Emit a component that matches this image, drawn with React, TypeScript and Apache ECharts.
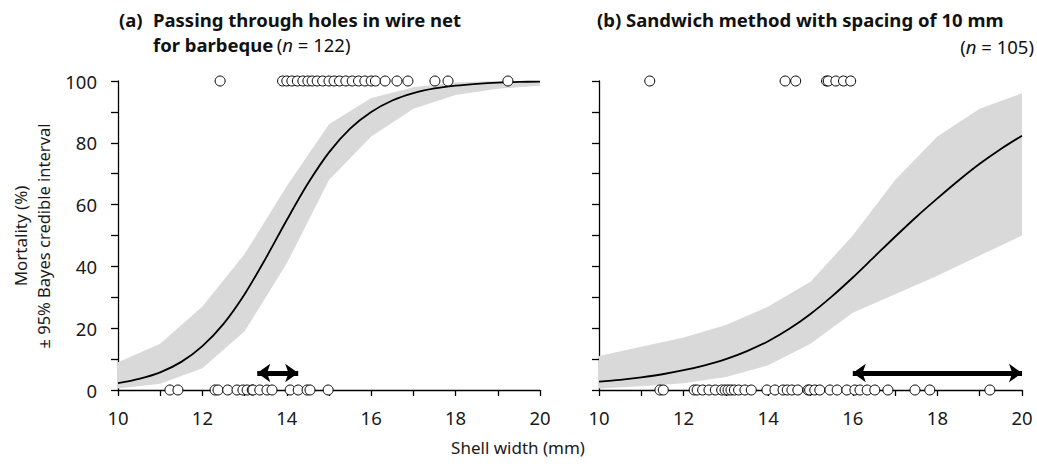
import React, { useEffect, useRef } from "react";
import * as echarts from "echarts";

// ---------- data ----------
const bandX = [10, 11, 12, 13, 14, 15, 16, 17, 18, 19, 20];
const leftLower = [0.5, 2, 7, 19, 41, 68, 82, 91, 95.5, 97.5, 98.5];
const leftUpper = [9, 15, 27, 44, 66, 86, 94.5, 98, 99.5, 100, 100];
const rightLower = [0.5, 1.2, 2.2, 4.2, 8, 15, 25, 31, 37, 43.5, 50];
const rightUpper = [11, 14, 17, 21, 27, 35, 50, 68, 82, 91, 96];

const curveX = [10, 10.5, 11, 11.5, 12, 12.5, 13, 13.5, 14, 14.5, 15, 15.5, 16, 16.5, 17, 17.5, 18, 18.5, 19, 19.5, 20];
const leftCurve = [2.2, 3.6, 5.7, 9.1, 14.2, 21.4, 31.0, 42.6, 55.0, 66.8, 76.9, 84.6, 90.0, 93.7, 96.1, 97.6, 98.5, 99.1, 99.5, 99.7, 99.8];
const rightCurve = [2.7, 3.3, 4.1, 5.1, 6.4, 8.0, 10.0, 12.6, 15.8, 19.8, 24.6, 30.2, 36.4, 43.0, 49.6, 56.0, 62.0, 67.8, 73.2, 78.0, 82.3];

const leftDead = [12.42, 13.9, 14.0, 14.12, 14.25, 14.38, 14.5, 14.6, 14.72, 14.85, 15.0, 15.12, 15.25, 15.4, 15.55, 15.7, 15.85, 16.0, 16.1, 16.33, 16.61, 16.87, 17.51, 17.82, 19.24];
const leftAlive = [11.23, 11.42, 12.3, 12.37, 12.6, 12.82, 12.96, 13.06, 13.18, 13.2, 13.36, 13.53, 13.65, 14.08, 14.27, 14.48, 14.55, 14.98];
const rightDead = [11.2, 14.4, 14.65, 15.38, 15.42, 15.6, 15.78, 15.95];
const rightAlive = [11.44, 11.52, 12.25, 12.32, 12.45, 12.6, 12.75, 12.9, 12.98, 13.05, 13.12, 13.2, 13.3, 13.45, 13.6, 13.97, 14.16, 14.35, 14.45, 14.56, 14.7, 14.94, 14.98, 15.1, 15.22, 15.46, 15.63, 15.86, 16.05, 16.17, 16.34, 16.52, 16.83, 17.47, 17.82, 19.24];

const leftArrow = [13.3, 14.27];
const rightArrow = [16.0, 20.0];
const arrowY = 5.5;

const xTicks = [10, 12, 14, 16, 18, 20];
const yTicks = [0, 20, 40, 60, 80, 100];

const FONT = "'Noto Sans', 'Open Sans', sans-serif";
const TICK_FS = 18.5;
const TITLE_FS = 18.5;

function bandSeries(idx: number, lower: number[], upper: number[]) {
  return {
    type: "custom",
    xAxisIndex: idx,
    yAxisIndex: idx,
    silent: true,
    z: 1,
    data: [[15, 50]],
    encode: { x: 0, y: 1 },
    renderItem: (params: any, api: any) => {
      const pts: number[][] = [];
      bandX.forEach((x, i) => pts.push(api.coord([x, upper[i]])));
      for (let i = bandX.length - 1; i >= 0; i--) pts.push(api.coord([bandX[i], lower[i]]));
      return { type: "polygon", shape: { points: pts }, style: { fill: "#d9d9d9" } };
    },
  };
}

function xAxisCfg(idx: number) {
  return {
    type: "value",
    gridIndex: idx,
    min: 10,
    max: 20,
    interval: 1,
    axisLine: { show: true, lineStyle: { color: "#000", width: 1.3 } },
    axisTick: { show: true, length: 6, inside: false, lineStyle: { color: "#000", width: 1.3 } },
    splitLine: { show: false },
    axisLabel: {
      margin: 18,
      fontSize: TICK_FS,
      color: "#1a1a1a",
      fontFamily: FONT,
      formatter: (v: number) => (xTicks.includes(v) ? String(v) : ""),
    },
  };
}

function yAxisCfg(idx: number, showLabel: boolean) {
  return {
    type: "value",
    gridIndex: idx,
    min: 0,
    max: 100,
    interval: 10,
    axisLine: { show: true, lineStyle: { color: "#000", width: 1.3 } },
    axisTick: { show: true, length: 7, inside: false, lineStyle: { color: "#000", width: 1.3 } },
    splitLine: { show: false },
    axisLabel: {
      show: showLabel,
      margin: 21,
      fontSize: TICK_FS,
      color: "#1a1a1a",
      fontFamily: FONT,
      formatter: (v: number) => (yTicks.includes(v) ? String(v) : ""),
    },
  };
}

function scatterSeries(idx: number, dead: number[], alive: number[]) {
  return {
    type: "scatter",
    xAxisIndex: idx,
    yAxisIndex: idx,
    symbol: "circle",
    symbolSize: 10,
    clip: false,
    silent: true,
    z: 5,
    itemStyle: { color: "#fff", borderColor: "#000", borderWidth: 1, opacity: 1 },
    data: [...dead.map((x) => [x, 100]), ...alive.map((x) => [x, 0])],
  };
}

function curveSeries(idx: number, ys: number[]) {
  return {
    type: "line",
    xAxisIndex: idx,
    yAxisIndex: idx,
    smooth: 0.3,
    showSymbol: false,
    symbol: "none",
    silent: true,
    z: 3,
    lineStyle: { color: "#000", width: 1.8 },
    data: curveX.map((x, i) => [x, ys[i]]),
  };
}

function arrowSeries(idx: number, ends: number[]) {
  return {
    type: "line",
    xAxisIndex: idx,
    yAxisIndex: idx,
    data: [],
    silent: true,
    z: 6,
    markLine: {
      silent: true,
      symbol: ["arrow", "arrow"],
      symbolSize: [14, 13],
      label: { show: false },
      lineStyle: { color: "#000", width: 5, type: "solid" },
      data: [[{ coord: [ends[0], arrowY] }, { coord: [ends[1], arrowY] }]],
    },
  };
}

export default function App() {
  const ref = useRef<HTMLDivElement>(null);
  useEffect(() => {
    if (!ref.current) return;
    const chart = echarts.init(ref.current, null, { renderer: "svg" });
    const option: any = {
      animation: false,
      backgroundColor: "#fff",
      textStyle: { fontFamily: FONT },
      grid: [
        { left: 118, right: 497, top: 81, bottom: 76 },
        { left: 599, right: 15, top: 81, bottom: 76 },
      ],
      xAxis: [xAxisCfg(0), xAxisCfg(1)],
      yAxis: [yAxisCfg(0, true), yAxisCfg(1, false)],
      series: [
        bandSeries(0, leftLower, leftUpper),
        bandSeries(1, rightLower, rightUpper),
        curveSeries(0, leftCurve),
        curveSeries(1, rightCurve),
        scatterSeries(0, leftDead, leftAlive),
        scatterSeries(1, rightDead, rightAlive),
        arrowSeries(0, leftArrow),
        arrowSeries(1, rightArrow),
      ],
      graphic: [
        {
          type: "text",
          x: 119,
          y: 19,
          style: { text: "(a)", font: `bold ${TITLE_FS}px ${FONT}`, fill: "#111", verticalAlign: "middle" },
        },
        {
          type: "text",
          x: 153,
          y: 19,
          style: {
            text: "Passing through holes in wire net",
            font: `bold ${TITLE_FS}px ${FONT}`,
            fill: "#111",
            verticalAlign: "middle",
          },
        },
        {
          type: "text",
          x: 153,
          y: 44,
          style: {
            text: "{b|for barbeque} {r|(}{i|n}{r| = 122)}",
            verticalAlign: "middle",
            rich: {
              b: { font: `bold ${TITLE_FS}px ${FONT}`, fill: "#111" },
              r: { font: `${TICK_FS}px ${FONT}`, fill: "#111" },
              i: { font: `italic ${TICK_FS}px ${FONT}`, fill: "#111" },
            },
          },
        },
        {
          type: "text",
          x: 597,
          y: 19,
          style: {
            text: "(b) Sandwich method with spacing of 10 mm",
            font: `bold ${TITLE_FS}px ${FONT}`,
            fill: "#111",
            verticalAlign: "middle",
          },
        },
        {
          type: "text",
          x: 1034,
          y: 46,
          style: {
            text: "{r|(}{i|n}{r| = 105)}",
            align: "right",
            verticalAlign: "middle",
            rich: {
              r: { font: `${TICK_FS}px ${FONT}`, fill: "#111" },
              i: { font: `italic ${TICK_FS}px ${FONT}`, fill: "#111" },
            },
          },
        },
        {
          type: "text",
          x: 20,
          y: 236,
          rotation: Math.PI / 2,
          style: { text: "Mortality (%)", font: `17px ${FONT}`, fill: "#1a1a1a", align: "center", verticalAlign: "middle" },
        },
        {
          type: "text",
          x: 43,
          y: 236,
          rotation: Math.PI / 2,
          style: {
            text: "± 95% Bayes credible interval",
            font: `16.5px ${FONT}`,
            fill: "#1a1a1a",
            align: "center",
            verticalAlign: "middle",
          },
        },
        {
          type: "text",
          x: 518,
          y: 447,
          style: { text: "Shell width (mm)", font: `17px ${FONT}`, fill: "#1a1a1a", align: "center", verticalAlign: "middle" },
        },
      ],
    };
    chart.setOption(option);
    return () => chart.dispose();
  }, []);
  return (
    <div
      ref={ref}
      style={{ position: "fixed", left: 0, top: 0, width: 1037, height: 466, background: "#fff" }}
    />
  );
}
